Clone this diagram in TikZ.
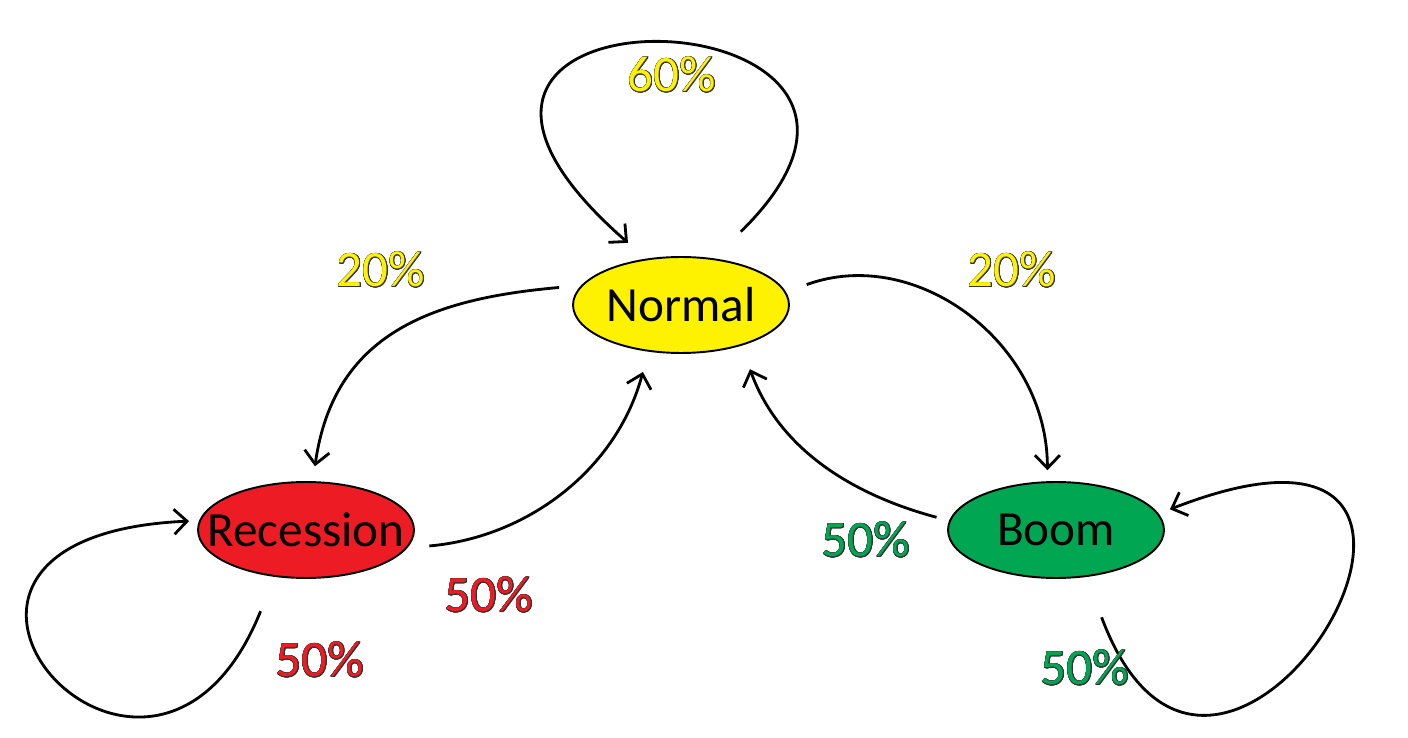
\documentclass[tikz,border=0pt]{standalone}
\usepackage{fontspec}
\setmainfont{Carlito}
\usepackage{contour}
\contourlength{0.35pt}
\usetikzlibrary{shapes.geometric,arrows.meta}
\definecolor{stYellow}{HTML}{FFF200}
\definecolor{stRed}{HTML}{ED1C24}
\definecolor{stGreen}{HTML}{00A651}
\newcommand{\prob}[2]{\contour{black!80}{\textcolor{#1}{#2}}}
\newcommand{\stname}[1]{\makebox[0pt]{#1}}

\begin{document}
\begin{tikzpicture}[x=0.02cm,y=0.02cm,
  state/.style={ellipse, draw, line width=1.1pt, minimum width=4.32cm, minimum height=1.92cm, inner sep=0pt, font=\fontsize{28}{30}\selectfont},
  flow/.style={line width=1.6pt, -{Straight Barb[length=0.26cm,width=0.5cm]}},
  lbl/.style={font=\fontsize{29}{32}\selectfont}]
\useasboundingbox (0,0) rectangle (1408,737);

% States
\node[state, fill=stYellow] (normal) at (681,432) {\stname{Normal}};
\node[state, fill=stRed] (recession) at (306,207) {\stname{Recession}};
\node[state, fill=stGreen] (boom) at (1056,207) {\stname{Boom}};

% Self loops
\draw[flow, shorten <=0.76cm, shorten >=0.48cm] (normal.55) .. controls +(277,272) and +(-334,292) .. (normal.127);
\draw[flow, shorten <=0.74cm, shorten >=0.2cm] (recession.236) .. controls +(-125,-311) and +(-360,-16) .. (recession.175);
\draw[flow, shorten <=0.86cm, shorten >=0.24cm] (boom.-57.6) .. controls +(135,-361) and +(402,157) .. (boom.9);

% Transitions
\draw[flow, shorten <=0.44cm, shorten >=0.3cm] (normal.169) to[out=185, in=82, looseness=1.15] (recession.82);
\draw[flow, shorten <=0.44cm, shorten >=0.42cm] (recession.-10) to[out=5, in=255] (normal.235);
\draw[flow, shorten <=0.44cm, shorten >=0.22cm] (normal.7) to[out=20, in=90, looseness=1.1] (boom.100);
\draw[flow, shorten <=0.26cm, shorten >=0.5cm] (boom.175) to[out=165, in=-70] (normal.-34);

% Labels
\node[lbl] (pNN) at (672,662) {\prob{stYellow}{60\%}};
\node[lbl] (pNR) at (381,467) {\prob{stYellow}{20\%}};
\node[lbl] (pNB) at (1012,467) {\prob{stYellow}{20\%}};
\node[lbl] (pRN) at (489,142) {\prob{stRed}{50\%}};
\node[lbl] (pRR) at (320,77) {\prob{stRed}{50\%}};
\node[lbl] (pBN) at (866,197) {\prob{stGreen}{50\%}};
\node[lbl] (pBB) at (1085,69) {\prob{stGreen}{50\%}};
\end{tikzpicture}
\end{document}
